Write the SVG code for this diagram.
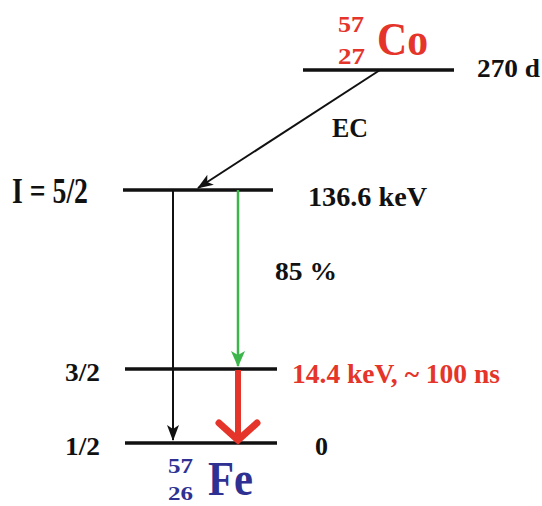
<svg xmlns="http://www.w3.org/2000/svg" width="542" height="506" viewBox="0 0 542 506">
<style>
text{font-family:"Liberation Serif","Times New Roman",Times,serif;font-weight:700}
.k{fill:#111}
.r{fill:#e5342a}
.b{fill:#2e3192}
.lvl{stroke:#111;stroke-width:3.5;fill:none}
</style>
<defs>
<marker id="ak" markerWidth="16" markerHeight="12" refX="15" refY="6" orient="auto" markerUnits="userSpaceOnUse"><path d="M0,0 L16,6 L0,12 L4,6 Z" fill="#111"/></marker>
<marker id="ag" markerWidth="16" markerHeight="14" refX="15" refY="7" orient="auto" markerUnits="userSpaceOnUse"><path d="M0,0 L16,7 L0,14 L4,7 Z" fill="#3cb64a"/></marker>
</defs>
<rect width="542" height="506" fill="#fff"/>
<g id="co57">
<line class="lvl" x1="303" y1="70" x2="454" y2="70"/>
<text class="r" x="338" y="32" font-size="24" textLength="26" lengthAdjust="spacingAndGlyphs">57</text>
<text class="r" x="338" y="64" font-size="24" textLength="27" lengthAdjust="spacingAndGlyphs">27</text>
<text class="r" x="377" y="55" font-size="46" textLength="51" lengthAdjust="spacingAndGlyphs">Co</text>
<text class="k" x="477" y="77" font-size="25" textLength="63" lengthAdjust="spacingAndGlyphs">270 d</text>
</g>
<g id="level52">
<line class="lvl" x1="123" y1="190" x2="273" y2="190"/>
<text class="k" x="12" y="203" font-size="35" textLength="76" lengthAdjust="spacingAndGlyphs">I = 5/2</text>
<text class="k" x="308" y="206" font-size="28" textLength="119" lengthAdjust="spacingAndGlyphs">136.6 keV</text>
</g>
<g id="level32">
<line class="lvl" x1="125" y1="369" x2="277" y2="369"/>
<text class="k" x="65" y="381" font-size="25" textLength="35" lengthAdjust="spacingAndGlyphs">3/2</text>
<text class="r" x="292" y="383" font-size="27" textLength="208" lengthAdjust="spacingAndGlyphs">14.4 keV, ~ 100 ns</text>
</g>
<g id="level12">
<line class="lvl" x1="125" y1="443" x2="277" y2="443"/>
<text class="k" x="65" y="455" font-size="25" textLength="35" lengthAdjust="spacingAndGlyphs">1/2</text>
<text class="k" x="315" y="455" font-size="25" textLength="13" lengthAdjust="spacingAndGlyphs">0</text>
</g>
<g id="fe57">
<text class="b" x="168" y="473" font-size="22" textLength="25" lengthAdjust="spacingAndGlyphs">57</text>
<text class="b" x="168" y="500" font-size="18" textLength="25" lengthAdjust="spacingAndGlyphs">26</text>
<text class="b" x="208" y="495" font-size="48" textLength="45" lengthAdjust="spacingAndGlyphs">Fe</text>
</g>
<g id="connectors">
<line x1="380" y1="70" x2="198" y2="188" stroke="#111" stroke-width="2" marker-end="url(#ak)"/>
<text class="k" x="332" y="137" font-size="27" textLength="36" lengthAdjust="spacingAndGlyphs">EC</text>
<line x1="173" y1="190" x2="173" y2="440" stroke="#111" stroke-width="2" marker-end="url(#ak)"/>
<line x1="238" y1="190" x2="238" y2="366" stroke="#3cb64a" stroke-width="2.5" marker-end="url(#ag)"/>
<text class="k" x="275" y="280" font-size="26" textLength="62" lengthAdjust="spacingAndGlyphs">85 %</text>
<line x1="238" y1="370" x2="238" y2="438" stroke="#e5342a" stroke-width="6"/>
<polyline points="219,423 238,440 257,423" fill="none" stroke="#e5342a" stroke-width="7" stroke-linecap="round" stroke-linejoin="miter"/>
</g>
</svg>
